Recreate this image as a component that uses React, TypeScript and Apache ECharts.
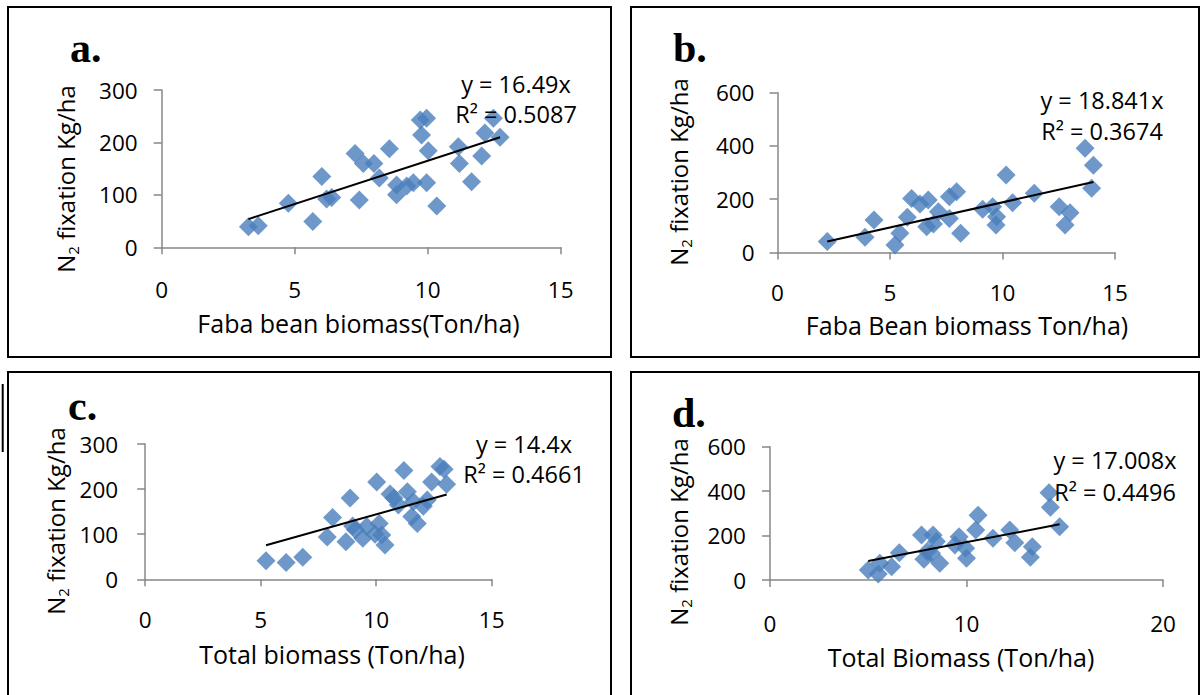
import React, { useEffect, useRef } from "react";
import * as echarts from "echarts";

// ---------- DATA ----------
const aBiomass = [3.26, 3.63, 4.76, 5.68, 6.02, 6.2, 6.39, 7.27, 7.58, 7.43, 7.98, 8.18, 8.56, 8.83, 8.83, 9.21, 9.46, 9.96, 9.72, 9.96, 9.77, 10.02, 10.34, 11.15, 11.19, 11.65, 12.03, 12.15, 12.47, 12.72];
const aFixation = [39, 41, 84, 49, 135, 92, 95, 179, 160, 90, 160, 132, 188, 119, 100, 117, 123, 123, 243, 246, 214, 184, 79, 192, 160, 125, 174, 218, 246, 210];

const bBiomass = [2.21, 3.89, 4.29, 5.22, 5.44, 5.77, 5.96, 6.33, 6.7, 6.63, 6.93, 7.15, 7.64, 7.64, 7.96, 8.14, 9.12, 9.56, 9.74, 9.71, 10.45, 10.16, 11.41, 12.52, 13.0, 12.78, 13.67, 14.04, 13.96];
const bFixation = [41, 57, 122, 28, 72, 132, 203, 182, 197, 97, 107, 153, 128, 209, 228, 72, 162, 172, 134, 103, 187, 291, 222, 172, 149, 103, 391, 328, 241];

const cBiomass = [5.23, 6.1, 6.82, 7.88, 8.11, 8.69, 8.87, 8.98, 9.1, 9.42, 9.59, 9.95, 10.02, 10.13, 10.24, 10.38, 10.6, 10.77, 10.96, 11.2, 11.35, 11.61, 11.54, 11.78, 12.04, 12.21, 12.4, 12.76, 12.94, 13.05];
const cFixation = [41, 37, 49, 94, 137, 83, 180, 118, 110, 91, 117, 100, 216, 124, 98, 76, 189, 180, 165, 241, 194, 172, 139, 124, 162, 176, 216, 250, 244, 211];

const dBiomass = [5.0, 5.51, 5.59, 6.19, 6.58, 7.71, 7.83, 8.0, 8.22, 8.3, 8.47, 8.64, 9.41, 9.62, 9.96, 10.0, 10.47, 10.59, 11.35, 12.2, 12.46, 13.25, 13.35, 14.2, 14.27, 14.74];
const dFixation = [45, 27, 75, 60, 123, 203, 93, 128, 120, 203, 173, 75, 158, 195, 143, 98, 225, 292, 188, 225, 168, 102, 150, 393, 327, 240];

const slopes = [16.49, 18.841, 14.4, 17.008];
const equationLabels = ["y = 16.49x", "y = 18.841x", "y = 14.4x", "y = 17.008x"];
const r2Labels = ["R² = 0.5087", "R² = 0.3674", "R² = 0.4661", "R² = 0.4496"];
const panelLetters = ["a.", "b.", "c.", "d."];
const xTitles = ["Faba bean biomass(Ton/ha)", "Faba Bean biomass Ton/ha)", "Total biomass (Ton/ha)", "Total Biomass (Ton/ha)"];
const xMax = [15, 15, 15, 20];
const xStep = [5, 5, 5, 10];
const yMax = [300, 600, 300, 600];
const yStep = [100, 200, 100, 200];

const xsAll = [aBiomass, bBiomass, cBiomass, dBiomass];
const ysAll = [aFixation, bFixation, cFixation, dFixation];

// ---------- LAYOUT ----------
const FONT = "'Open Sans', sans-serif";
const SERIF = "'Liberation Serif', 'Times New Roman', serif";
const AXIS_GRAY = "#878787";
const BLUE = "#4A7EBB";

const grids = [
  { left: 161.7, top: 90, width: 399, height: 157.3 },
  { left: 777.5, top: 92.7, width: 337.5, height: 159.8 },
  { left: 145.2, top: 444, width: 346.5, height: 135.3 },
  { left: 770, top: 446.7, width: 393, height: 133.3 },
];
const yLabelMargin = [24, 23, 27, 24];
const xLabelMargin = [31, 28, 29, 32];
const letterPos = [[70, 48], [673, 48], [68, 406], [672, 413]];
const eqPos = [[516, 84, 114], [1102, 100, 131], [524, 444, 474], [1115, 460, 492]];
const xTitlePos = [[358.5, 323], [967, 325], [332, 654], [961, 657]];
const yTitlePos = [[65, 179], [678, 172], [55, 521], [678, 532]];
const boxes = [
  { x: 8, y: 7, width: 603, height: 350 },
  { x: 631, y: 7, width: 568, height: 350 },
  { x: 8, y: 372, width: 603, height: 340 },
  { x: 631, y: 372, width: 568, height: 340 },
];

export default function App() {
  const ref = useRef<HTMLDivElement>(null);

  useEffect(() => {
    if (!ref.current) return;
    const chart = echarts.init(ref.current, undefined, { renderer: "svg" });

    const xAxis: any[] = [];
    const yAxis: any[] = [];
    const series: any[] = [];
    const graphic: any[] = [];

    for (let i = 0; i < 4; i++) {
      xAxis.push({
        gridIndex: i,
        type: "value",
        min: 0,
        max: xMax[i],
        interval: xStep[i],
        axisLine: { show: true, onZero: true, lineStyle: { color: AXIS_GRAY, width: 1.5 } },
        axisTick: { show: true, length: 7, lineStyle: { color: AXIS_GRAY, width: 1.5 } },
        axisLabel: { color: "#000", fontSize: 22.5, fontFamily: FONT, margin: xLabelMargin[i] },
        splitLine: { show: false },
      });
      yAxis.push({
        gridIndex: i,
        type: "value",
        min: 0,
        max: yMax[i],
        interval: yStep[i],
        axisLine: { show: true, onZero: true, lineStyle: { color: AXIS_GRAY, width: 1.5 } },
        axisTick: { show: true, length: 8, lineStyle: { color: AXIS_GRAY, width: 1.5 } },
        axisLabel: { color: "#000", fontSize: 22.5, fontFamily: FONT, margin: yLabelMargin[i] },
        splitLine: { show: false },
      });
      const xs = xsAll[i];
      const ys = ysAll[i];
      series.push({
        type: "scatter",
        xAxisIndex: i,
        yAxisIndex: i,
        symbol: "diamond",
        symbolSize: 19,
        itemStyle: { color: BLUE },
        z: 2,
        data: xs.map((x, k) => [x, ys[k]]),
      });
      const lo = Math.min(...xs);
      const hi = Math.max(...xs);
      series.push({
        type: "line",
        xAxisIndex: i,
        yAxisIndex: i,
        symbol: "none",
        lineStyle: { color: "#000", width: 2 },
        z: 3,
        silent: true,
        data: [
          [lo, slopes[i] * lo],
          [hi, slopes[i] * hi],
        ],
      });

      graphic.push({
        type: "rect",
        silent: true,
        shape: boxes[i],
        style: { fill: "none", stroke: "#000", lineWidth: 2 },
      });
      graphic.push({
        type: "text",
        x: letterPos[i][0],
        y: letterPos[i][1],
        style: {
          text: panelLetters[i],
          fontSize: 42,
          lineHeight: 34,
          fontWeight: "bold",
          fontFamily: SERIF,
          fill: "#000",
          textAlign: "left",
          textVerticalAlign: "middle",
        },
      });
      graphic.push({
        type: "text",
        x: eqPos[i][0],
        y: eqPos[i][1],
        z: 10,
        style: {
          text: equationLabels[i],
          fontSize: 23.5,
          lineHeight: 24,
          fontFamily: FONT,
          fill: "#000",
          textAlign: "center",
          textVerticalAlign: "middle",
        },
      });
      graphic.push({
        type: "text",
        x: eqPos[i][0],
        y: eqPos[i][2],
        z: 10,
        style: {
          text: r2Labels[i],
          fontSize: 23.5,
          lineHeight: 24,
          fontFamily: FONT,
          fill: "#000",
          textAlign: "center",
          textVerticalAlign: "middle",
        },
      });
      graphic.push({
        type: "text",
        x: xTitlePos[i][0],
        y: xTitlePos[i][1],
        style: {
          text: xTitles[i],
          fontSize: 25,
          fontFamily: FONT,
          fill: "#000",
          textAlign: "center",
          textVerticalAlign: "middle",
        },
      });
      graphic.push({
        type: "text",
        x: yTitlePos[i][0],
        y: yTitlePos[i][1],
        rotation: Math.PI / 2,
        style: {
          text: "{n|N}{s|2}{n| fixation Kg/ha}",
          fontFamily: FONT,
          fill: "#000",
          textAlign: "center",
          textVerticalAlign: "middle",
          rich: {
            n: { fontSize: 24, fontFamily: FONT, fill: "#000", lineHeight: 24, verticalAlign: "top" },
            s: { fontSize: 15, fontFamily: FONT, fill: "#000", lineHeight: 15, verticalAlign: "top", padding: [12, 0, 0, 0] },
          },
        },
      });
    }

    graphic.push({
      type: "line",
      silent: true,
      shape: { x1: 2.7, y1: 384, x2: 2.7, y2: 452 },
      style: { stroke: "#000", lineWidth: 2 },
    });

    chart.setOption({
      animation: false,
      backgroundColor: "#fff",
      grid: grids.map((g) => ({ ...g, containLabel: false, outerBoundsMode: "none" })),
      xAxis,
      yAxis,
      series,
      graphic,
    });

    return () => chart.dispose();
  }, []);

  return (
    <div
      ref={ref}
      style={{ position: "absolute", left: 0, top: 0, width: 1202, height: 695 }}
    />
  );
}
